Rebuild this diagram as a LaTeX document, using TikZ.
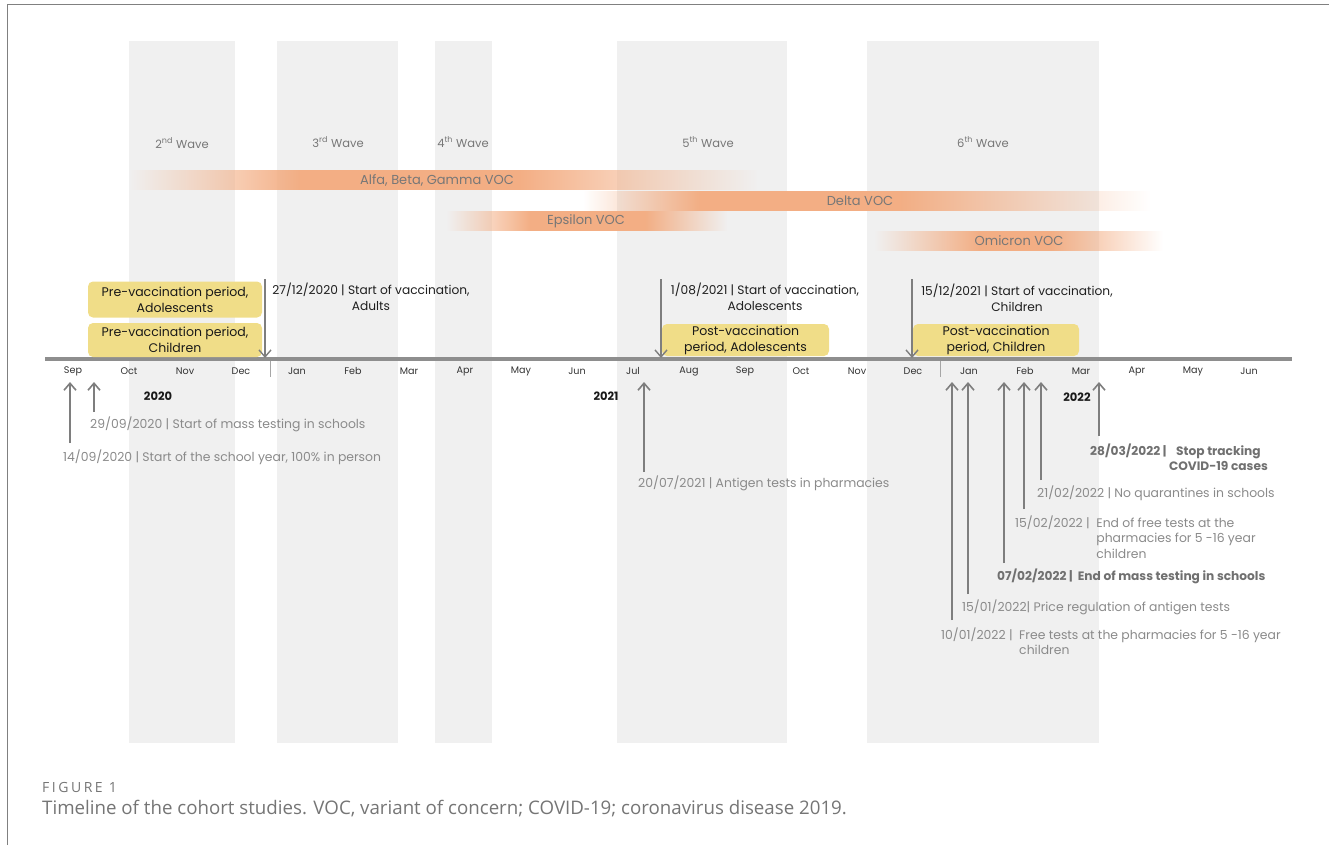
\documentclass[tikz,border=0pt]{standalone}
\usepackage{fontspec}
\setmainfont{Poppins}
\newfontfamily\capfont{Open Sans}
\newfontfamily\figfont[LetterSpace=18]{Open Sans}
\usepackage{tikz}
\usetikzlibrary{arrows.meta,fadings}

\definecolor{bandgray}{HTML}{F0F0F0}
\definecolor{axisgray}{HTML}{8E8E8E}
\definecolor{arrowgray}{HTML}{7E7E7E}
\definecolor{boxyellow}{HTML}{F0DD88}
\definecolor{vocorange}{HTML}{F3AE84}
\definecolor{labelgray}{HTML}{8A8A8A}
\definecolor{boldgray}{HTML}{707070}
\definecolor{wavegray}{HTML}{777777}
\definecolor{framegray}{HTML}{808080}
\definecolor{capgray}{HTML}{757575}

\tikzfading[name=fadein, left color=transparent!100, right color=transparent!0]
\tikzfading[name=fadeout, left color=transparent!0, right color=transparent!100]

\begin{document}
\begin{tikzpicture}[x=1pt,y=-1pt,every node/.style={inner sep=0pt,align=center},
    wave/.style={font=\fontsize{11.5}{13}\selectfont,text=wavegray},
    voc/.style={font=\fontsize{13}{15}\selectfont,text=wavegray},
    month/.style={font=\fontsize{9.6}{11}\selectfont,text=black!80},
    year/.style={font=\bfseries\fontsize{11.5}{13}\selectfont,text=black!90},
    period/.style={fill=boxyellow,rounded corners=5pt,font=\fontsize{12.5}{16}\selectfont,text=black!90},
    vacc/.style={anchor=base,font=\fontsize{12.2}{15.5}\selectfont,text=black!88},
    event/.style={anchor=base west,font=\fontsize{12.4}{15.5}\selectfont,text=labelgray},
    keyevent/.style={event,font=\bfseries\fontsize{12.2}{15.5}\selectfont,text=boldgray},
    downarr/.style={-{Straight Barb[length=7pt,width=12pt]},line width=1.4pt,arrowgray},
    uparr/.style={-{Straight Barb[length=7pt,width=12pt]},line width=1.6pt,arrowgray}]

\useasboundingbox (0,0) rectangle (1329,845);
\draw[framegray,line width=1pt] (7,845) -- (7,5) -- (1329,5);

% waves
\fill[bandgray] (129,41) rectangle (235,743);
\fill[bandgray] (277,41) rectangle (398,743);
\fill[bandgray] (435,41) rectangle (492,743);
\fill[bandgray] (617,41) rectangle (787,743);
\fill[bandgray] (867,41) rectangle (1099,743);
\node[wave] (wave2) at (182,143) {2\textsuperscript{nd} Wave};
\node[wave] (wave3) at (338,142) {3\textsuperscript{rd} Wave};
\node[wave] (wave4) at (463,142) {4\textsuperscript{th} Wave};
\node[wave] (wave5) at (708,142) {5\textsuperscript{th} Wave};
\node[wave] (wave6) at (983,142) {6\textsuperscript{th} Wave};

% variants of concern
\fill[vocorange,path fading=fadein] (129,170) rectangle (300,190);
\fill[vocorange] (299.5,170) rectangle (520.5,190);
\fill[vocorange,path fading=fadeout] (520,170) rectangle (757,190);
\fill[vocorange,path fading=fadein] (583,191) rectangle (700,211);
\fill[vocorange] (699.5,191) rectangle (900.5,211);
\fill[vocorange,path fading=fadeout] (900,191) rectangle (1150,211);
\fill[vocorange,path fading=fadein] (447,211) rectangle (530,231);
\fill[vocorange] (529.5,211) rectangle (645.5,231);
\fill[vocorange,path fading=fadeout] (645,211) rectangle (727,231);
\fill[vocorange,path fading=fadein] (875,231) rectangle (980,251);
\fill[vocorange] (979.5,231) rectangle (1050.5,251);
\fill[vocorange,path fading=fadeout] (1050,231) rectangle (1163,251);
\node[voc] (alfa) at (437,180) {Alfa, Beta, Gamma VOC};
\node[voc] (delta) at (860,201) {Delta VOC};
\node[voc] (epsilon) at (586,221) {Epsilon VOC};
\node[voc] (omicron) at (1019,241) {Omicron VOC};

% timeline
\draw[axisgray,line width=3.5pt] (45,359) -- (1292,359);
\draw[black!35,line width=0.8pt] (270,361) -- (270,377);
\draw[black!35,line width=0.8pt] (940,361) -- (940,377);
\foreach \m [count=\i from 0] in {Sep,Oct,Nov,Dec,Jan,Feb,Mar,Apr,May,Jun,Jul,Aug,Sep,Oct,Nov,Dec,Jan,Feb,Mar,Apr,May,Jun}
  \node[month] (m\i) at (73+56*\i,371) {\m};
\node[year] (y2020) at (158,396) {2020};
\node[year] (y2021) at (606,396) {2021};
\node[year] (y2022) at (1077,397) {2022};

% study periods
\node[period,minimum width=174pt,minimum height=36pt] (preado) at (175,299.5) {Pre-vaccination period,\\Adolescents};
\node[period,minimum width=174pt,minimum height=34pt] (prechi) at (175,340) {Pre-vaccination period,\\Children};
\node[period,minimum width=167pt,minimum height=32pt] (postado) at (745.5,340) {Post-vaccination\\period, Adolescents};
\node[period,minimum width=166pt,minimum height=32pt] (postchi) at (996,340) {Post-vaccination\\period, Children};

% vaccination starts
\node[vacc] (v2020) at (371,294.5) {\begin{tabular}[t]{@{}c@{}}27/12/2020 | Start of vaccination,\\Adults\end{tabular}};
\node[vacc] (v2021a) at (765,294.5) {\begin{tabular}[t]{@{}c@{}}1/08/2021 | Start of vaccination,\\Adolescents\end{tabular}};
\node[vacc] (v2021c) at (1017,295.5) {\begin{tabular}[t]{@{}c@{}}15/12/2021 | Start of vaccination,\\Children\end{tabular}};
\coordinate (s2020) at (265,279);
\coordinate (s2021a) at (661,279);
\coordinate (s2021c) at (912,279);
\coordinate (t2020) at (265,358);
\coordinate (t2021a) at (661,358);
\coordinate (t2021c) at (912,358);
\draw[downarr] (s2020) -- (t2020);
\draw[downarr] (s2021a) -- (t2021a);
\draw[downarr] (s2021c) -- (t2021c);

% school measures
\node[event] (e1409) at (63,461.5) {14/09/2020 | Start of the school year, 100\% in person};
\node[event] (e2909) at (90,428.5) {29/09/2020 | Start of mass testing in schools};
\node[event] (e2007) at (638,487.5) {20/07/2021 | Antigen tests in pharmacies};
\node[keyevent] (e2803) at (1090,455) {28/03/2022 |\ \begin{tabular}[t]{@{}c@{}}Stop tracking\\COVID-19 cases\end{tabular}};
\node[event] (e2102) at (1037,497.5) {21/02/2022 | No quarantines in schools};
\node[event] (e1502) at (1015,527) {15/02/2022 |\ \ \begin{tabular}[t]{@{}l@{}}End of free tests at the\\pharmacies for 5 -16 year\\children\end{tabular}};
\node[keyevent] (e0702) at (997,580.5) {07/02/2022 |\ \ End of mass testing in schools};
\node[event] (e1501) at (962,611.5) {15/01/2022| Price regulation of antigen tests};
\node[event] (e1001) at (941,639) {10/01/2022 |\ \ \begin{tabular}[t]{@{}l@{}}Free tests at the pharmacies for 5 -16 year\\children\end{tabular}};
\coordinate (b1409) at (70,443);
\coordinate (b2909) at (94,412);
\coordinate (b2007) at (644,472);
\coordinate (b1001) at (952,620);
\coordinate (b1501) at (968,594);
\coordinate (b0702) at (1004,563);
\coordinate (b1502) at (1024,509);
\coordinate (b2102) at (1041,480);
\coordinate (b2803) at (1099,436);
\foreach \e/\x in {1409/70,2909/94,2007/644,1001/952,1501/968,0702/1004,1502/1024,2102/1041,2803/1099}
  \coordinate (a\e) at (\x,382);
\foreach \e in {1409,2909,2007,1001,1501,0702,1502,2102,2803}
  \draw[uparr] (b\e) -- (a\e);

% caption
\node[anchor=west,font=\figfont\fontsize{14}{16}\selectfont,text=capgray] (fig) at (42,787) {FIGURE 1};
\node[anchor=west,font=\capfont\fontsize{18.7}{20}\selectfont,text=capgray] (caption) at (42,809) {Timeline of the cohort studies. VOC, variant of concern; COVID-19; coronavirus disease 2019.};
\end{tikzpicture}
\end{document}
